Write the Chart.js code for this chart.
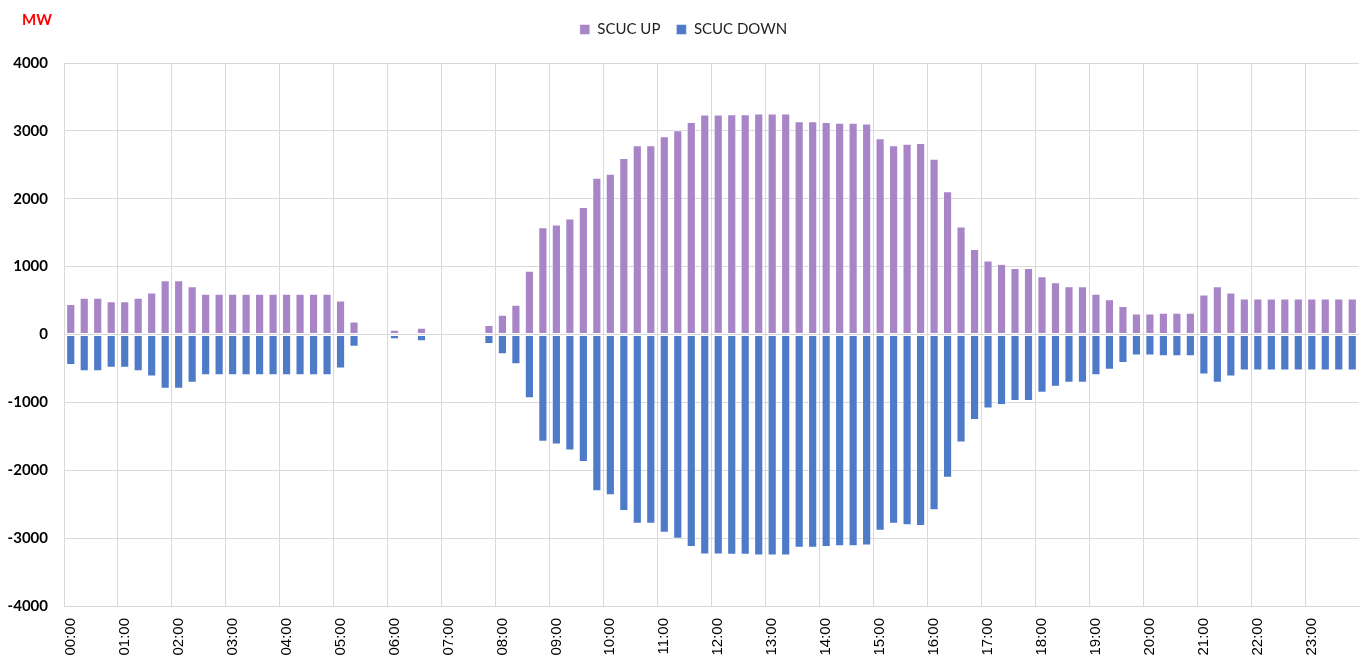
<!DOCTYPE html>
<html>
<head>
<meta charset="utf-8">
<script src="https://cdn.jsdelivr.net/npm/chart.js@4.4.1/dist/chart.umd.min.js"></script>
<style>
  html, body { margin: 0; padding: 0; background: #ffffff; }
  #wrap { width: 1361px; height: 660px; position: relative; }
</style>
</head>
<body>
<div id="wrap"><canvas id="c" width="1361" height="660"></canvas></div>
<script>
const categories = [
  '00:00','00:15','00:30','00:45','01:00','01:15','01:30','01:45',
  '02:00','02:15','02:30','02:45','03:00','03:15','03:30','03:45',
  '04:00','04:15','04:30','04:45','05:00','05:15','05:30','05:45',
  '06:00','06:15','06:30','06:45','07:00','07:15','07:30','07:45',
  '08:00','08:15','08:30','08:45','09:00','09:15','09:30','09:45',
  '10:00','10:15','10:30','10:45','11:00','11:15','11:30','11:45',
  '12:00','12:15','12:30','12:45','13:00','13:15','13:30','13:45',
  '14:00','14:15','14:30','14:45','15:00','15:15','15:30','15:45',
  '16:00','16:15','16:30','16:45','17:00','17:15','17:30','17:45',
  '18:00','18:15','18:30','18:45','19:00','19:15','19:30','19:45',
  '20:00','20:15','20:30','20:45','21:00','21:15','21:30','21:45',
  '22:00','22:15','22:30','22:45','23:00','23:15','23:30','23:45'
];

const scucUp = [
  450, 540, 540, 490, 490, 540, 620, 800,
  800, 710, 600, 600, 600, 600, 600, 600,
  600, 600, 600, 600, 500, 190, null, null,
  70, null, 100, null, null, null, null, 140,
  290, 440, 940, 1580, 1620, 1710, 1880, 2310,
  2370, 2600, 2790, 2790, 2920, 3010, 3130, 3240,
  3240, 3245, 3245, 3255, 3255, 3255, 3140, 3140,
  3130, 3120, 3120, 3110, 2890, 2790, 2810, 2820,
  2590, 2110, 1590, 1260, 1090, 1040, 980, 980,
  860, 770, 710, 710, 600, 520, 420, 310,
  310, 320, 320, 320, 590, 710, 620, 530,
  530, 530, 530, 530, 530, 530, 530, 530
];

const scucDown = [
  -450, -540, -540, -490, -490, -540, -620, -800,
  -800, -710, -600, -600, -600, -600, -600, -600,
  -600, -600, -600, -600, -500, -180, null, null,
  -70, null, -100, null, null, null, null, -140,
  -290, -440, -940, -1580, -1620, -1710, -1880, -2310,
  -2370, -2600, -2790, -2790, -2920, -3010, -3130, -3240,
  -3240, -3245, -3245, -3255, -3255, -3255, -3140, -3140,
  -3130, -3120, -3120, -3110, -2890, -2790, -2810, -2820,
  -2590, -2110, -1590, -1260, -1090, -1040, -980, -980,
  -860, -770, -710, -710, -600, -520, -420, -310,
  -310, -320, -320, -320, -590, -710, -620, -530,
  -530, -530, -530, -530, -530, -530, -530, -530
];

const yTicks = [-4000, -3000, -2000, -1000, 0, 1000, 2000, 3000, 4000];

const unitLabel = {
  id: 'unitLabel',
  afterDraw(chart) {
    const ctx = chart.ctx;
    ctx.save();
    ctx.fillStyle = '#ff0000';
    ctx.font = 'bold 15px Lato, "Liberation Sans", sans-serif';
    ctx.textBaseline = 'middle';
    ctx.textAlign = 'left';
    ctx.fillText('MW', 22, 20);
    ctx.restore();
  }
};

const legendMargin = {
  id: 'legendMargin',
  beforeInit(chart) {
    const origFit = chart.legend.fit;
    chart.legend.fit = function () {
      origFit.bind(chart.legend)();
      this.height += 16;
    };
  }
};

new Chart(document.getElementById('c'), {
  type: 'bar',
  data: {
    labels: categories,
    datasets: [
      {
        label: 'SCUC UP',
        data: scucUp,
        backgroundColor: '#a885c6',
        borderColor: 'rgba(255,255,255,0.45)',
        borderWidth: 1,
        borderSkipped: false,
        categoryPercentage: 1.0,
        barPercentage: 0.68
      },
      {
        label: 'SCUC DOWN',
        data: scucDown,
        backgroundColor: '#4e7bc8',
        borderColor: 'rgba(255,255,255,0.45)',
        borderWidth: 1,
        borderSkipped: false,
        categoryPercentage: 1.0,
        barPercentage: 0.68
      }
    ]
  },
  options: {
    responsive: false,
    animation: false,
    devicePixelRatio: 1,
    layout: { padding: { left: 8, right: 2, top: 6, bottom: 0 } },
    plugins: {
      legend: {
        position: 'top',
        align: 'center',
        labels: {
          boxWidth: 10,
          boxHeight: 10,
          padding: 16,
          color: '#222222',
          font: { family: 'Lato, "Open Sans", sans-serif', size: 15 }
        }
      },
      tooltip: { enabled: false }
    },
    scales: {
      x: {
        stacked: true,
        offset: true,
        afterFit: (scale) => {
          scale.paddingLeft = 0;
          scale.paddingRight = 0;
          scale.height = 54;
        },
        grid: {
          offset: true,
          drawTicks: false,
          color: (ctx) => (ctx.index % 4 === 0 ? '#d9d9d9' : 'rgba(0,0,0,0)'),
          lineWidth: 1
        },
        border: { display: true, color: '#d9d9d9' },
        ticks: {
          autoSkip: false,
          maxRotation: 90,
          minRotation: 90,
          padding: 12,
          color: '#000000',
          font: { family: '"Liberation Sans", Arial, sans-serif', size: 15 },
          callback: function (value, index) {
            return index % 4 === 0 ? categories[index] : '';
          }
        }
      },
      y: {
        stacked: true,
        min: -4000,
        max: 4000,
        afterBuildTicks: (axis) => { axis.ticks = yTicks.map(v => ({ value: v })); },
        afterFit: (scale) => { scale.width = 56; },
        grid: { color: '#d9d9d9', lineWidth: 1, drawTicks: false },
        border: { display: false },
        ticks: {
          padding: 16,
          color: '#000000',
          font: { family: 'Lato, "Liberation Sans", sans-serif', size: 15, weight: 'bold' },
          callback: (v) => String(v)
        }
      }
    }
  },
  plugins: [unitLabel, legendMargin]
});
</script>
</body>
</html>
